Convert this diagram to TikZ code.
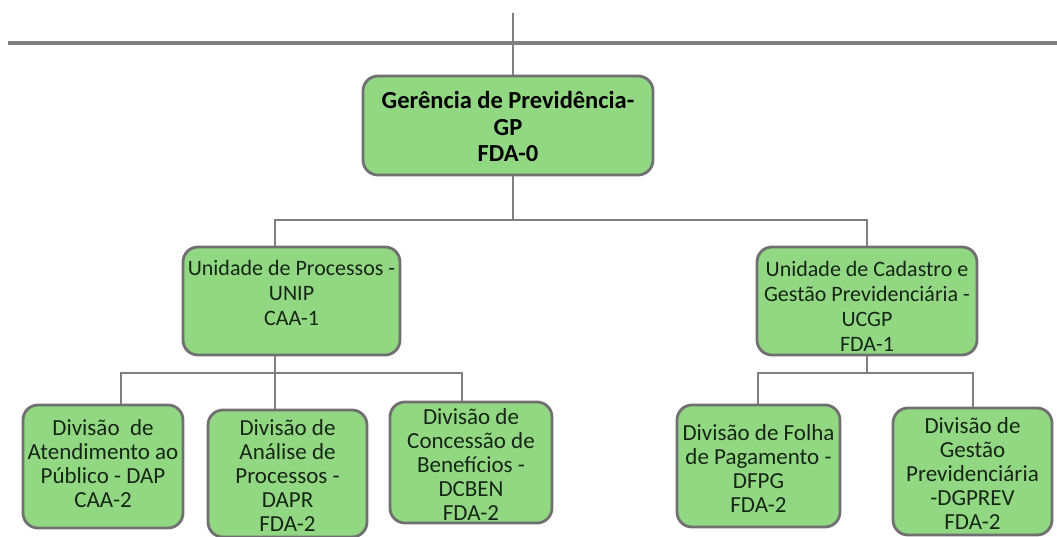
\documentclass[tikz,border=0pt]{standalone}
\usepackage{fontspec}
\setmainfont{Carlito}
\definecolor{boxfill}{HTML}{92D883}
\definecolor{boxline}{HTML}{707070}
\definecolor{connline}{HTML}{7F7F7F}
\definecolor{txt}{HTML}{152615}
\tikzset{
  orgbox/.style={draw=boxline, line width=2.8pt, fill=boxfill, rounded corners=15pt, inner sep=0pt},
  boxtext/.style={text=txt, align=center, inner sep=0pt},
  toptext/.style={boxtext, font=\bfseries\fontsize{24.5}{26.5}\selectfont, text=black},
  midtext/.style={boxtext, font=\fontsize{22}{25}\selectfont},
  lowtext/.style={boxtext, font=\fontsize{23}{24}\selectfont},
  conn/.style={draw=connline, line width=2.8pt},
  topbar/.style={draw=connline, line width=3.6pt}
}
\begin{document}
\begin{tikzpicture}[x=1pt,y=-1pt]
\useasboundingbox (0,0) rectangle (1057,537);
% boxes
\node[orgbox, minimum width=290pt, minimum height=99pt] (gp) at (508,125.5) {};
\node[orgbox, minimum width=217pt, minimum height=108pt] (unip) at (291.5,301) {};
\node[orgbox, minimum width=220pt, minimum height=108pt] (ucgp) at (867,301) {};
\node[orgbox, minimum width=160pt, minimum height=123pt] (dap) at (103,466.5) {};
\node[orgbox, minimum width=159pt, minimum height=127pt] (dapr) at (287.5,473.5) {};
\node[orgbox, minimum width=162pt, minimum height=121pt] (dcben) at (471,462.5) {};
\node[orgbox, minimum width=163pt, minimum height=122pt] (dfpg) at (758.5,466) {};
\node[orgbox, minimum width=159pt, minimum height=127pt] (dgprev) at (972.5,471.5) {};
% texts
\node[toptext] (gpT) at (508,126.5) {Gerência de Previdência-\\GP\\FDA-0};
\node[midtext] (unipT) at (291.5,293) {Unidade de Processos -\\UNIP\\CAA-1};
\node[midtext] (ucgpT) at (867,306) {Unidade de Cadastro e\\Gestão Previdenciária -\\UCGP\\FDA-1};
\node[lowtext] (dapT) at (103,464) {Divisão\ \ de\\Atendimento ao\\Público - DAP\\CAA-2};
\node[lowtext] (daprT) at (287.5,476) {Divisão de\\Análise de\\Processos -\\DAPR\\FDA-2};
\node[lowtext] (dcbenT) at (471,465) {Divisão de\\Concessão de\\Benefícios -\\DCBEN\\FDA-2};
\node[lowtext] (dfpgT) at (758.5,469) {Divisão de Folha\\de Pagamento -\\DFPG\\FDA-2};
\node[lowtext] (dgprevT) at (972.5,474) {Divisão de\\Gestão\\Previdenciária\\-DGPREV\\FDA-2};
% top bar
\coordinate (barL) at (8,43);
\coordinate (barR) at (1057,43);
\coordinate (topIn) at (513,13);
\draw[topbar] (barL) -- (barR);
\draw[conn] (topIn) -- (gp.north -| topIn);
% level 1
\coordinate (b0) at (513,220);
\coordinate (b1) at (275,220);
\coordinate (b2) at (867,220);
\draw[conn] (gp.south -| b0) -- (b0);
\draw[conn] (unip.north -| b1) -- (b1) -- (b2) -- (ucgp.north -| b2);
% level 2 left
\coordinate (l0) at (275,373);
\coordinate (l1) at (121,373);
\coordinate (l3) at (462,373);
\draw[conn] (unip.south -| l0) -- (dapr.north -| l0);
\draw[conn] (dap.north -| l1) -- (l1) -- (l3) -- (dcben.north -| l3);
% level 2 right
\coordinate (r0) at (867,373);
\coordinate (r1) at (758,373);
\coordinate (r2) at (973,373);
\draw[conn] (ucgp.south -| r0) -- (r0);
\draw[conn] (dfpg.north -| r1) -- (r1) -- (r2) -- (dgprev.north -| r2);
\end{tikzpicture}
\end{document}
